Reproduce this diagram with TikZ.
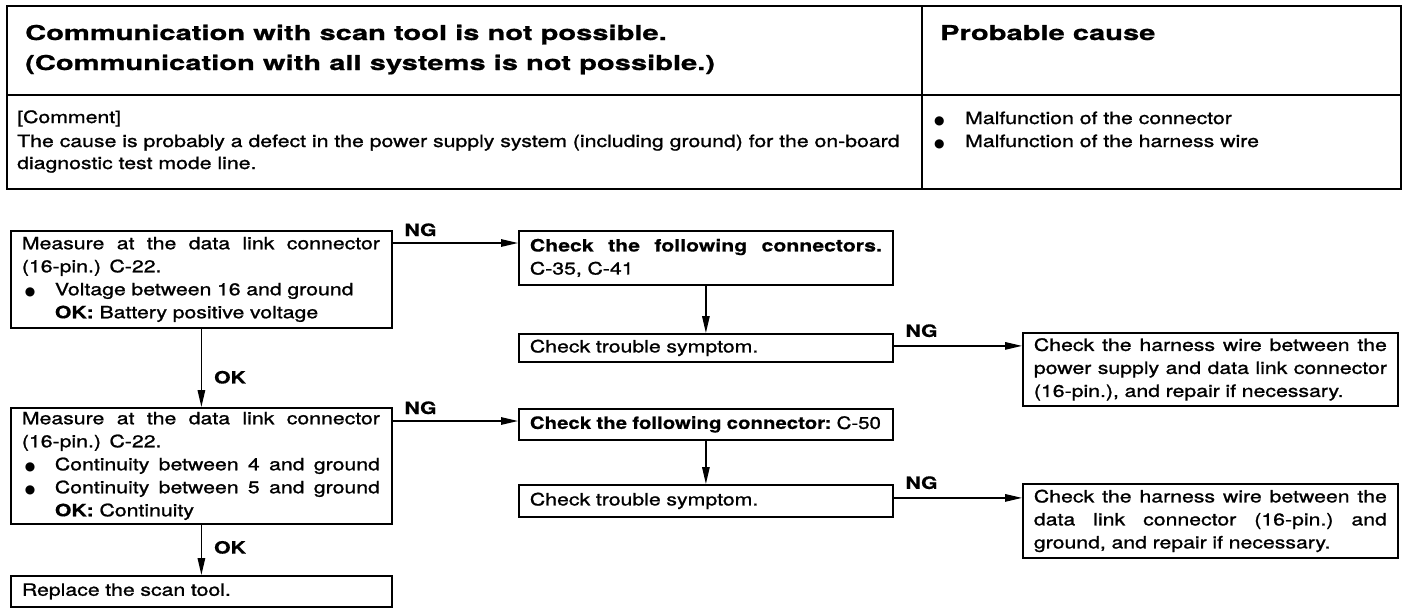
\documentclass[tikz,border=0pt]{standalone}
\usepackage{fontspec}
\setmainfont[FakeStretch=1.25, UprightFeatures={FakeBold=1.2}, BoldFeatures={FakeBold=0.5}]{TeX Gyre Heros}
\newfontfamily\titlef[FakeStretch=1.42, BoldFeatures={FakeBold=0.8}]{TeX Gyre Heros}
\newfontfamily\condf[FakeStretch=1.2, BoldFeatures={FakeBold=0.5}, UprightFeatures={FakeBold=1.2}]{TeX Gyre Heros}
\newfontfamily\symf{DejaVu Sans}
\usetikzlibrary{arrows.meta,calc}
\newcommand\fbody{\fontsize{17}{23}\selectfont}
\newcommand\ftitle{\titlef\fontsize{20.5}{30}\selectfont\bfseries}
\newcommand\blt{{\symf\fontsize{12}{12}\selectfont ●}}
\newcommand\jl[2]{\leavevmode\hbox to #1{\spaceskip=0.22em plus 1fil\relax\xspaceskip=\spaceskip #2}}
\newcommand\tl[2]{\leavevmode\hbox to #1{\spaceskip=0.08em plus 1fil\relax\xspaceskip=\spaceskip #2}}
\newcommand\bitem[1]{\makebox[33pt][l]{\hspace{3pt}\blt}#1}
\newcommand\bjitem[2]{\makebox[33pt][l]{\hspace{3pt}\blt}\jl{\dimexpr#1-33pt\relax}{#2}}
\begin{document}
\begin{tikzpicture}[x=1pt,y=-1pt,
  box/.style={draw, line width=1.8pt, anchor=north west, inner xsep=11pt, inner ysep=0pt, align=left, font=\fbody},
  txt/.style={anchor=base west, inner sep=0pt, font=\fbody},
  arr/.style={line width=1.4pt, -{Triangle[length=17pt,width=7.5pt]}},
  ng/.style={anchor=base west, inner sep=0pt, font=\fbody\bfseries, xshift=11pt, yshift=7pt},
  ok/.style={anchor=west, inner sep=0pt, font=\fbody\bfseries, xshift=12pt}]
\useasboundingbox (0,0) rectangle (1408,614);
% header table
\draw[line width=2.6pt] (7,6) rectangle (1401,189);
\draw[line width=2pt] (7,95) -- (1401,95);
\draw[line width=2pt] (922,6) -- (922,189);
\node[anchor=base west, inner sep=0pt, font=\ftitle] (t1) at (25,40) {Communication with scan tool is not possible.};
\node[anchor=base west, inner sep=0pt, font=\ftitle] (t2) at (25,70) {(Communication with all systems is not possible.)};
\node[anchor=base west, inner sep=0pt, font=\ftitle] (pc) at (940,40) {Probable cause};
\node[txt] (c1) at (17,123) {[Comment]};
\node[txt] (c2) at (17,147) {The cause is probably a defect in the power supply system (including ground) for the on-board};
\node[txt] (c3) at (17,169) {diagnostic test mode line.};
\node[txt] (p1) at (934,124) {\makebox[31pt][l]{\blt}Malfunction of the connector};
\node[txt] (p2) at (934,147) {\makebox[31pt][l]{\blt}Malfunction of the harness wire};
% flowchart boxes
\node[box, text width=359pt, minimum height=97pt] (A) at (10,230) {%
\jl{358pt}{Measure at the data link connector}\\
(16-pin.) C-22.\\
\bitem{Voltage between 16 and ground}\\
\hspace*{33pt}\textbf{OK:} Battery positive voltage};
\node[box, text width=352pt, minimum height=54pt] (B) at (518,230) {%
\jl{352pt}{\textbf{Check the following connectors.}}\\
C-35, C-41};
\node[box, text width=352pt, minimum height=28pt] (C) at (518,333) {Check trouble symptom.};
\node[box, text width=353pt, minimum height=73pt] (D) at (1022,332) {%
\jl{353pt}{Check the harness wire between the}\\
\jl{353pt}{power supply and data link connector}\\
(16-pin.), and repair if necessary.};
\node[box, text width=359pt, minimum height=116pt] (E) at (10,407) {%
\jl{358pt}{Measure at the data link connector}\\
(16-pin.) C-22.\\
\bjitem{358pt}{Continuity between 4 and ground}\\
\bjitem{358pt}{Continuity between 5 and ground}\\
\hspace*{33pt}\textbf{OK:} Continuity};
\node[box, text width=352pt, minimum height=31pt] (F) at (518,408) {%
\tl{351pt}{\condf\bfseries Check the following connector: {\mdseries C-50}}};
\node[box, text width=352pt, minimum height=32pt] (G) at (518,484) {Check trouble symptom.};
\node[box, text width=353pt, minimum height=74pt] (H) at (1022,483) {%
\jl{353pt}{Check the harness wire between the}\\
\jl{353pt}{data link connector (16-pin.) and}\\
ground, and repair if necessary.};
\node[box, text width=359pt, minimum height=31pt] (I) at (10,575) {Replace the scan tool.};
% connectors
\coordinate (a1) at ([yshift=-13pt]A.north east);
\draw[arr] (a1) -- (a1 -| B.west) node[ng, pos=0] (ng1) {NG};
\draw[arr] (A.south) -- (E.north) node[ok, pos=0.62] (ok1) {OK};
\draw[arr] (B.south) -- (C.north);
\coordinate (c0) at ([yshift=2pt]C.east);
\draw[arr] (c0) -- (c0 -| D.west) node[ng, pos=0, yshift=2pt] (ng2) {NG};
\coordinate (e1) at ([yshift=-14pt]E.north east);
\draw[arr] (e1) -- (e1 -| F.west) node[ng, pos=0] (ng3) {NG};
\draw[arr] (F.south) -- (G.north);
\coordinate (g0) at ([yshift=3pt]G.east);
\draw[arr] (g0) -- (g0 -| H.west) node[ng, pos=0, yshift=2pt] (ng4) {NG};
\draw[arr] (E.south) -- (I.north) node[ok, pos=0.45] (ok2) {OK};
\end{tikzpicture}
\end{document}
